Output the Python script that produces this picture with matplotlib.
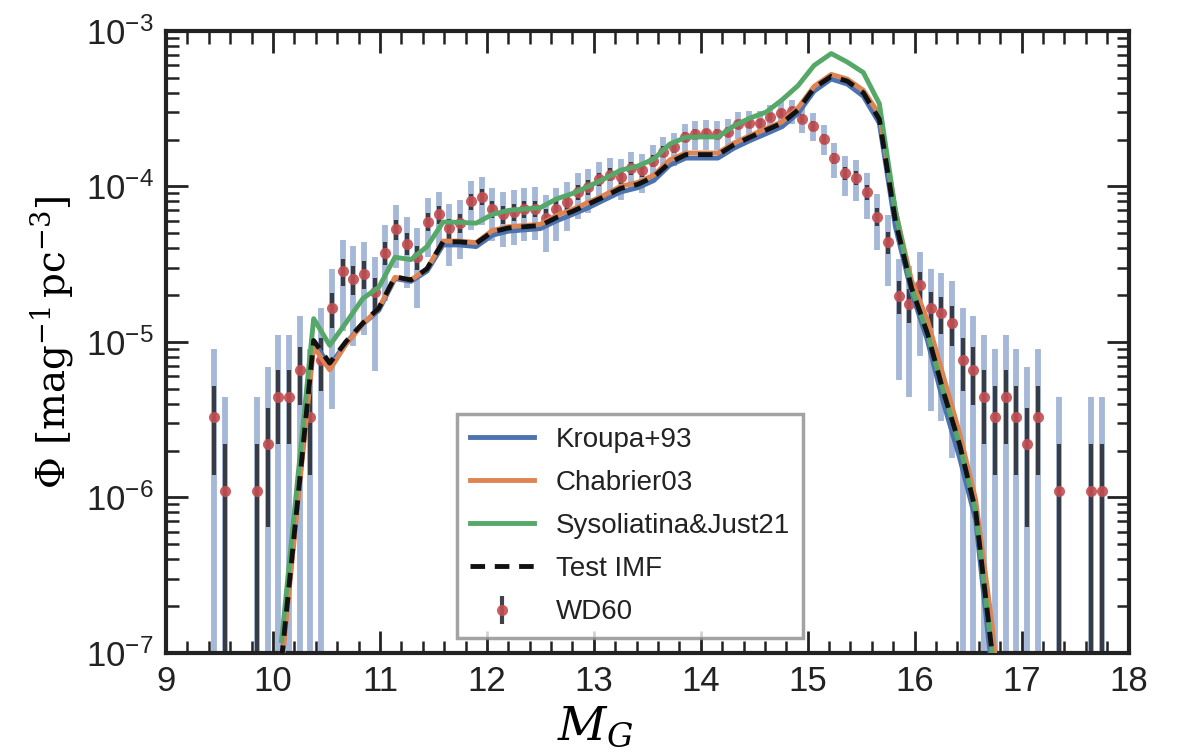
import numpy as np
import matplotlib
matplotlib.use("Agg")
import matplotlib.pyplot as plt

plt.rcParams['font.family'] = ['Liberation Sans', 'DejaVu Sans']
plt.rcParams['mathtext.fontset'] = 'dejavuserif'

# ---------------- data ----------------
# WD60 observed luminosity function (units of 1e-6 mag^-1 pc^-3)
M_obs = [9.45, 9.55, 9.85, 9.95, 10.05, 10.15, 10.25, 10.35, 10.45, 10.55,
         10.65, 10.75, 10.85, 10.95, 11.05, 11.15, 11.25, 11.35, 11.45, 11.55,
         11.65, 11.75, 11.85, 11.95, 12.05, 12.15, 12.25, 12.35, 12.45, 12.55,
         12.65, 12.75, 12.85, 12.95, 13.05, 13.15, 13.25, 13.35, 13.45, 13.55,
         13.65, 13.75, 13.85, 13.95, 14.05, 14.15, 14.25, 14.35, 14.45, 14.55,
         14.65, 14.75, 14.85, 14.95, 15.05, 15.15, 15.25, 15.35, 15.45, 15.55,
         15.65, 15.75, 15.85, 15.95, 16.05, 16.15, 16.25, 16.35, 16.45, 16.55,
         16.65, 16.75, 16.85, 16.95, 17.05, 17.15, 17.35, 17.65, 17.75]
phi_obs = [3.3, 1.1, 1.1, 2.2, 4.4, 4.4, 6.6, 3.3, 7.7, 16.5,
           28.6, 25.3, 27.5, 20.9, 37.4, 52.8, 42.9, 35.2, 59.4, 66.0,
           53.9, 58.3, 80.3, 85.8, 71.5, 66.0, 68.2, 71.5, 72.0, 62.7,
           71.5, 79.2, 92.4, 99.0, 111, 119, 115.5, 131, 126.5, 146,
           167, 178, 208, 217, 219, 217, 224, 251, 255, 255,
           280, 298, 305, 273, 245, 203, 152, 122, 114, 92,
           64, 44, 19.8, 17.6, 23.1, 16.5, 15.4, 13.2, 7.7, 6.6,
           4.4, 3.3, 4.4, 3.3, 2.2, 3.3, 1.1, 1.1, 1.1]
sig_obs = [1.9, 1.1, 1.1, 1.56, 2.2, 2.2, 2.7, 1.9, 2.9, 4.26,
           5.6, 5.3, 5.5, 4.8, 6.4, 7.6, 6.9, 6.2, 8.1, 8.5,
           7.7, 8.0, 9.4, 9.7, 8.9, 8.5, 8.7, 8.9, 8.9, 8.3,
           8.9, 9.3, 10.1, 10.4, 11.1, 11.4, 11.3, 12.0, 11.8, 12.7,
           13.6, 14.0, 15.1, 15.4, 15.5, 15.4, 15.7, 16.6, 16.8, 16.8,
           17.6, 18.1, 18.3, 17.3, 16.4, 15.0, 12.9, 11.6, 11.2, 10.1,
           8.4, 7.0, 4.7, 4.4, 5.0, 4.3, 4.1, 3.8, 2.9, 2.7,
           2.2, 1.9, 2.2, 1.9, 1.56, 1.9, 1.1, 1.1, 1.1]
obs_unit = 1e-6

# model grid (M_G) and model luminosity functions
M_mod = [10.08, 10.23, 10.38, 10.53, 10.68, 10.84, 10.99, 11.14, 11.29, 11.44,
         11.59, 11.74, 11.90, 12.05, 12.20, 12.35, 12.50, 12.65, 12.80, 12.95,
         13.10, 13.25, 13.41, 13.56, 13.71, 13.86, 14.01, 14.16, 14.31, 14.46,
         14.61, 14.76, 14.91, 15.06, 15.22, 15.37, 15.52, 15.67, 15.82, 15.97,
         16.12, 16.27, 16.42, 16.57, 16.72, 16.87]
kroupa = [9e-8, 9.5e-7, 1.0e-5, 7.0e-6, 9.8e-6, 1.3e-5, 1.6e-5, 2.55e-5, 2.45e-5, 2.85e-5,
          4.2e-5, 4.2e-5, 4.1e-5, 4.85e-5, 5.15e-5, 5.25e-5, 5.35e-5, 6.0e-5, 6.6e-5, 7.3e-5,
          8.2e-5, 9.2e-5, 9.8e-5, 1.09e-4, 1.37e-4, 1.52e-4, 1.52e-4, 1.52e-4, 1.76e-4, 1.97e-4,
          2.18e-4, 2.42e-4, 2.95e-4, 4.1e-4, 4.9e-4, 4.55e-4, 3.8e-4, 2.55e-4, 5.5e-5, 2.1e-5,
          1.02e-5, 4.04e-6, 1.8e-6, 7.2e-7, 8e-8, 8e-9]
chabrier = [8e-8, 9e-7, 9.3e-6, 6.6e-6, 9.6e-6, 1.3e-5, 1.65e-5, 2.6e-5, 2.5e-5, 2.95e-5,
            4.45e-5, 4.45e-5, 4.35e-5, 5.2e-5, 5.5e-5, 5.6e-5, 5.7e-5, 6.5e-5, 7.1e-5, 7.9e-5,
            8.8e-5, 1.0e-4, 1.06e-4, 1.18e-4, 1.48e-4, 1.64e-4, 1.64e-4, 1.64e-4, 1.9e-4, 2.12e-4,
            2.35e-4, 2.6e-4, 3.2e-4, 4.4e-4, 5.25e-4, 4.9e-4, 4.15e-4, 2.9e-4, 7.0e-5, 2.49e-5,
            1.38e-5, 5.97e-6, 2.59e-6, 9.7e-7, 1.6e-7, 1.5e-8]
sysoliatina = [1.2e-7, 1.3e-6, 1.41e-5, 9.5e-6, 1.32e-5, 1.9e-5, 2.25e-5, 3.5e-5, 3.38e-5, 4.1e-5,
               5.9e-5, 5.87e-5, 5.8e-5, 6.6e-5, 7.0e-5, 7.15e-5, 7.3e-5, 8.3e-5, 9.0e-5, 1.0e-4,
               1.12e-4, 1.27e-4, 1.35e-4, 1.5e-4, 1.87e-4, 2.07e-4, 2.08e-4, 2.08e-4, 2.45e-4, 2.75e-4,
               3.0e-4, 3.6e-4, 4.45e-4, 6.0e-4, 7.15e-4, 6.3e-4, 5.4e-4, 3.4e-4, 7.0e-5, 2.23e-5,
               1.13e-5, 4.74e-6, 2.19e-6, 8.2e-7, 1.05e-7, 1e-8]
test_imf = [9e-8, 9.5e-7, 1.02e-5, 7.3e-6, 1.0e-5, 1.32e-5, 1.65e-5, 2.62e-5, 2.5e-5, 2.95e-5,
            4.4e-5, 4.4e-5, 4.3e-5, 5.1e-5, 5.4e-5, 5.5e-5, 5.6e-5, 6.3e-5, 6.9e-5, 7.7e-5,
            8.6e-5, 9.7e-5, 1.03e-4, 1.15e-4, 1.42e-4, 1.6e-4, 1.6e-4, 1.6e-4, 1.85e-4, 2.07e-4,
            2.3e-4, 2.55e-4, 3.1e-4, 4.3e-4, 5.1e-4, 4.75e-4, 4.0e-4, 2.7e-4, 6.0e-5, 2.23e-5,
            1.13e-5, 4.74e-6, 2.19e-6, 8.2e-7, 1.05e-7, 1e-8]

x_ticks = [9, 10, 11, 12, 13, 14, 15, 16, 17, 18]

# ---------------- plot ----------------
c_blue = '#4C72B0'
c_orange = '#DD8452'
c_green = '#55A868'
c_red = '#C44E52'
c_dark = '#2a2d34'

fig = plt.figure(figsize=(11.78, 7.53), dpi=100)
ax = fig.add_axes([0.141, 0.133, 0.817, 0.826])
ax.set_yscale('log')

Mo = np.array(M_obs)
po = np.array(phi_obs) * obs_unit
so = np.array(sig_obs) * obs_unit
floor = 1e-9

# outer (3 sigma) error bars
ax.vlines(Mo, np.maximum(po - 3 * so, floor), po + 3 * so, colors=c_blue,
          alpha=0.5, linewidth=4.2, zorder=1)
# inner (1 sigma) error bars + points
lo = np.minimum(so, po - floor)
eb = ax.errorbar(Mo, po, yerr=[lo, so], fmt='o', color=c_red, ecolor=c_dark,
                 elinewidth=3.0, markersize=8, alpha=0.9, zorder=2,
                 label='WD60', capsize=0, markeredgewidth=0)

ax.plot(M_mod, kroupa, color=c_blue, lw=3.5, label='Kroupa+93', zorder=3)
ax.plot(M_mod, chabrier, color=c_orange, lw=3.5, label='Chabrier03', zorder=3)
ax.plot(M_mod, sysoliatina, color=c_green, lw=3.5, label='Sysoliatina&Just21', zorder=3)
ax.plot(M_mod, test_imf, color='#111111', lw=3.5, ls=(0, (3, 2)), label='Test IMF', zorder=4)

ax.set_xlim(9, 18)
ax.set_ylim(1e-7, 1e-3)
ax.set_xticks(x_ticks)
ax.xaxis.set_minor_locator(matplotlib.ticker.MultipleLocator(0.2))
ax.yaxis.set_minor_locator(matplotlib.ticker.LogLocator(base=10, subs=np.arange(2, 10)))
ax.yaxis.set_minor_formatter(matplotlib.ticker.NullFormatter())

ax.tick_params(which='both', direction='in', top=True, right=True, colors='#222222')
ax.tick_params(which='major', length=16, width=2.0, labelsize=25, pad=9)
ax.tick_params(which='minor', length=9, width=1.8)
for sp in ax.spines.values():
    sp.set_linewidth(3.0)
    sp.set_color('#222222')

ax.set_xlabel(r'$M_G$', fontsize=34)
ax.xaxis.set_label_coords(0.446, -0.085)
ax.set_ylabel(r'$\Phi\ [\mathrm{mag}^{-1}\,\mathrm{pc}^{-3}]$', fontsize=28, labelpad=8)

handles, labels = ax.get_legend_handles_labels()
order = ['Kroupa+93', 'Chabrier03', 'Sysoliatina&Just21', 'Test IMF', 'WD60']
hs = [handles[labels.index(o)] for o in order]
leg = ax.legend(hs, order, loc='lower left', bbox_to_anchor=(0.3025, 0.024),
                fontsize=20, frameon=True, fancybox=False, labelspacing=0.62,
                handlelength=2.3, handletextpad=0.8, borderpad=0.45,
                borderaxespad=0)
leg.get_frame().set_edgecolor('#8c8c8c')
leg.get_frame().set_linewidth(2.5)
for t in leg.get_texts():
    t.set_color('#222222')

fig.savefig('out.png', dpi=100)
